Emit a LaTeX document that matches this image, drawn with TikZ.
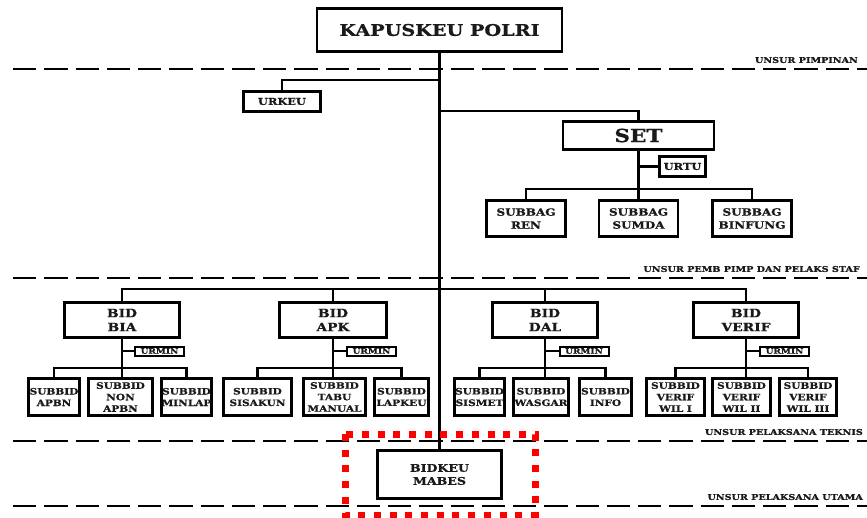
\documentclass[tikz,border=0pt]{standalone}
\usepackage{fontspec}
\setmainfont{DejaVu Serif}[FakeStretch=1.2, BoldFeatures={FakeBold=0.8}]
\usetikzlibrary{shadows}
\definecolor{txt}{HTML}{1A1A1A}
\tikzset{
  box/.style={draw=black, line width=2.8pt, fill=white, inner sep=0pt, align=center,
    text=txt, font=\bfseries,
    drop shadow={shadow xshift=1.2pt, shadow yshift=-1.2pt, opacity=.25, fill=black}},
  thinbox/.style={box, line width=2pt},
  conn/.style={line width=2.2pt, line cap=rect},
  divider/.style={line width=2.4pt, dash pattern=on 23.3pt off 7.95pt},
  unsur/.style={anchor=east, inner sep=0pt, text=txt, font=\bfseries\fontsize{8}{9}\selectfont},
}
\begin{document}
\begin{tikzpicture}[x=1pt,y=-1pt]
\useasboundingbox (0,0) rectangle (867,517);
% dividers
\draw[divider] (13,69) -- (867,69);
\draw[divider] (13,278) -- (867,278);
\draw[divider] (13,441) -- (867,441);
\draw[divider] (13,506) -- (867,506);
\node[unsur] (l1) at (858,60) {UNSUR PIMPINAN};
\node[unsur] (l2) at (860,269) {UNSUR PEMB PIMP DAN PELAKS STAF};
\node[unsur] (l3) at (863,432) {UNSUR PELAKSANA TEKNIS};
\node[unsur] (l4) at (863,497) {UNSUR PELAKSANA UTAMA};

% boxes
\node[box, minimum width=245pt, minimum height=43pt, font=\bfseries\fontsize{16}{16}\selectfont] (kap) at (439.5,30) {KAPUSKEU POLRI};
\node[box, minimum width=77pt, minimum height=20pt, font=\bfseries\fontsize{9.5}{9.5}\selectfont] (urkeu) at (282,101.5) {URKEU};
\node[box, minimum width=151pt, minimum height=28pt, font=\bfseries\fontsize{18}{18}\selectfont] (set) at (638.5,135.5) {SET};
\node[box, minimum width=46pt, minimum height=20pt, font=\bfseries\fontsize{9.5}{9.5}\selectfont] (urtu) at (682.5,166.5) {URTU};
\tikzset{sbg/.style={box, minimum width=79pt, minimum height=36pt, font=\bfseries\fontsize{10}{13}\selectfont}}
\node[sbg] (ren) at (526,218.5) {SUBBAG\\REN};
\node[sbg] (sumda) at (638.5,218.5) {SUBBAG\\SUMDA};
\node[sbg] (binfung) at (752,218.5) {SUBBAG\\BINFUNG};

\tikzset{bid/.style={box, minimum height=35pt, font=\bfseries\fontsize{11.5}{14}\selectfont},
  urmin/.style={thinbox, minimum width=49pt, minimum height=9pt, font=\bfseries\fontsize{7.5}{7.5}\selectfont},
  sbd/.style={box, minimum height=37pt, font=\bfseries\fontsize{8.8}{11.5}\selectfont}}
\node[bid, minimum width=115pt] (bia) at (122,320) {BID\\BIA};
\node[bid, minimum width=107pt] (apk) at (333,320) {BID\\APK};
\node[bid, minimum width=105pt] (dal) at (545,320) {BID\\DAL};
\node[bid, minimum width=105pt] (verif) at (746,320) {BID\\VERIF};

\node[urmin] (um1) at (159.5,351) {URMIN};
\node[urmin] (um2) at (371.5,351) {URMIN};
\node[urmin] (um3) at (584,351) {URMIN};
\node[urmin] (um4) at (784.5,351) {URMIN};

\node[sbd, minimum width=51pt] (apbn) at (54,397) {SUBBID\\APBN};
\node[sbd, minimum width=64pt] (nonapbn) at (120.5,397) {SUBBID\\NON\\APBN};
\node[sbd, minimum width=50pt] (minlap) at (186.5,397) {SUBBID\\MINLAP};
\node[sbd, minimum width=68pt] (sisakun) at (257.5,397) {SUBBID\\SISAKUN};
\node[sbd, minimum width=62pt] (tabu) at (334.5,397) {SUBBID\\TABU\\MANUAL};
\node[sbd, minimum width=54pt] (lapkeu) at (401.5,397) {SUBBID\\LAPKEU};
\node[sbd, minimum width=50pt] (sismet) at (479.5,397) {SUBBID\\SISMET};
\node[sbd, minimum width=55pt] (wasgar) at (541,397) {SUBBID\\WASGAR};
\node[sbd, minimum width=52pt] (info) at (605.5,397) {SUBBID\\INFO};
\node[sbd, minimum width=58pt] (wil1) at (675.5,397) {SUBBID\\VERIF\\WIL I};
\node[sbd, minimum width=58pt] (wil2) at (741.5,397) {SUBBID\\VERIF\\WIL II};
\node[sbd, minimum width=57pt] (wil3) at (808,397) {SUBBID\\VERIF\\WIL III};

\node[box, minimum width=124pt, minimum height=48pt, font=\bfseries\fontsize{10.5}{13}\selectfont] (bidkeu) at (439.5,474.5) {BIDKEU\\MABES};

% connectors
\coordinate (j1) at (439.5,80);
\coordinate (j2) at (439.5,111);
\draw[conn] (kap.south) -- (bidkeu.north);
\draw[conn] (urkeu.north) |- (j1);
\draw[conn] (set.north) |- (j2);
\draw[conn] (set.south) -- (set.south |- sumda.north);
\draw[conn] (urtu.west) -- (urtu.west -| set.south);
\draw[conn] (ren.north) -- ++(0,-10) -| (binfung.north);

\draw[conn] (bia.north) -- ++(0,-12) -| (verif.north);
\draw[conn] (apk.north) -- ++(0,-12);
\draw[conn] (dal.north) -- ++(0,-12);

\foreach \b/\u/\l/\m/\r in {bia/um1/apbn/nonapbn/minlap, apk/um2/sisakun/tabu/lapkeu, dal/um3/sismet/wasgar/info, verif/um4/wil1/wil2/wil3}{
  \draw[conn] (\b.south) -- (\b.south |- \m.north);
  \draw[conn] (\u.west) -- (\u.west -| \b.south);
  \draw[conn] (\l.north) -- ++(0,-9) -| (\r.north);
}

% highlight
\draw[red, line width=7pt, dash pattern=on 7pt off 8.7pt] (345,434) rectangle (535,515);
\end{tikzpicture}
\end{document}
